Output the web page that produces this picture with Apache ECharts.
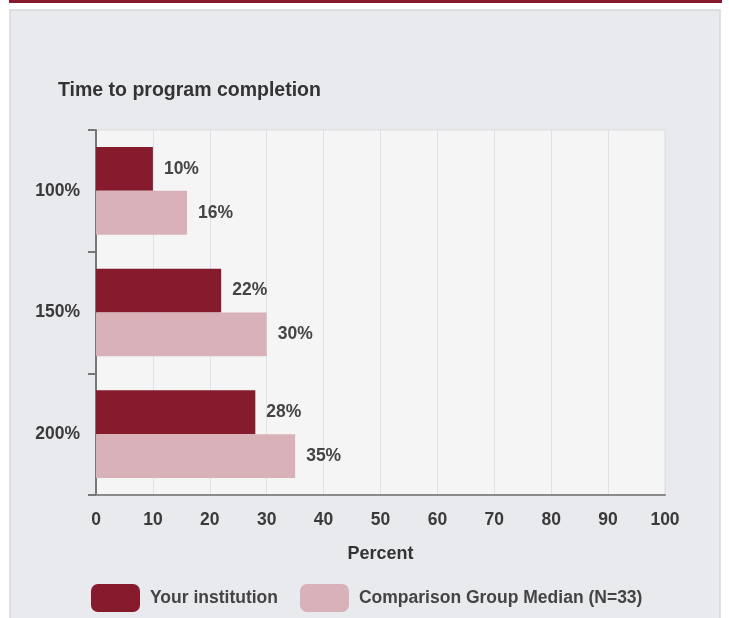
<!DOCTYPE html>
<html><head><meta charset="utf-8">
<script src="https://cdn.jsdelivr.net/npm/echarts@6/dist/echarts.min.js"></script>
<style>html,body{margin:0;padding:0;background:#fff}#c{width:729px;height:618px}</style>
</head><body><div id="c"></div>
<script>
const categories = ['100%', '150%', '200%'];
const yourInstitution = [10, 22, 28];
const comparisonMedian = [16, 30, 35];
const xTicks = [0, 100, 10];

const chart = echarts.init(document.getElementById('c'), null, {renderer: 'canvas'});
const font = 'Arial, "Liberation Sans", sans-serif';
const lbl = {fontFamily: font, fontSize: 17.5, fontWeight: 'bold', color: '#3a3a3a'};
chart.setOption({
  animation: false,
  graphic: [
    {type: 'rect', shape: {x: 9, y: 0, width: 713, height: 3}, style: {fill: '#861a2d'}, z: -10},
    {type: 'rect', shape: {x: 10, y: 10, width: 710, height: 620}, style: {fill: '#e9eaee', stroke: '#d6d7da', lineWidth: 1.5}, z: -10}
  ],
  title: {
    text: 'Time to program completion', left: 53, top: 76,
    textStyle: {fontFamily: font, fontSize: 19.5, fontWeight: 'bold', color: '#333'}
  },
  legend: {
    left: 86, top: 579, itemWidth: 49, itemHeight: 28, itemGap: 22, icon: 'roundRect',
    textStyle: Object.assign({}, lbl, {padding: [0, 0, 0, 5], color: '#444'}),
    data: ['Your institution', 'Comparison Group Median (N=33)']
  },
  grid: {
    left: 96, right: 64, top: 130, bottom: 123, show: true,
    backgroundColor: '#f5f5f5', borderColor: '#dadbdd', borderWidth: 1
  },
  xAxis: {
    type: 'value', min: xTicks[0], max: xTicks[1], interval: xTicks[2],
    name: 'Percent', nameLocation: 'middle', nameGap: 50,
    nameTextStyle: {fontFamily: font, fontSize: 18, fontWeight: 'bold', color: '#333'},
    axisLine: {show: true, lineStyle: {color: '#8a8a8a', width: 2}},
    axisTick: {show: false},
    axisLabel: Object.assign({}, lbl, {margin: 16}),
    splitLine: {lineStyle: {color: '#dde1ec', width: 1}}
  },
  yAxis: {
    type: 'category', inverse: true, data: categories,
    axisLine: {show: true, lineStyle: {color: '#777', width: 2}},
    axisTick: {show: true, length: 8, lineStyle: {color: '#777', width: 2}},
    axisLabel: Object.assign({}, lbl, {margin: 16})
  },
  series: [
    {
      name: 'Your institution', type: 'bar', data: yourInstitution,
      barGap: '0%', barCategoryGap: '28%',
      itemStyle: {color: '#861b2d'},
      label: Object.assign({show: true, position: 'right', distance: 11, formatter: '{c}%'}, lbl, {color: '#444'})
    },
    {
      name: 'Comparison Group Median (N=33)', type: 'bar', data: comparisonMedian,
      barGap: '0%', barCategoryGap: '28%',
      itemStyle: {color: '#d8b2b8'},
      label: Object.assign({show: true, position: 'right', distance: 11, formatter: '{c}%'}, lbl, {color: '#444'})
    }
  ]
});
</script></body></html>
